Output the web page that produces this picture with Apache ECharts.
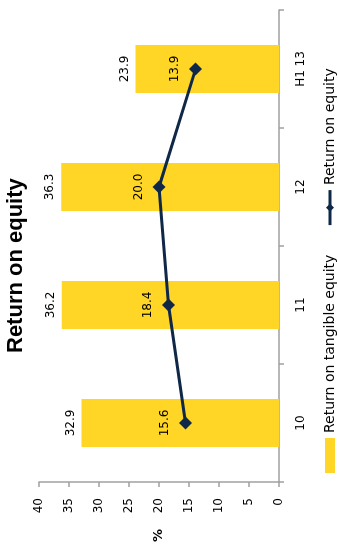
<!DOCTYPE html>
<html>
<head>
<meta charset="utf-8">
<script src="https://cdn.jsdelivr.net/npm/echarts@6/dist/echarts.min.js"></script>
<style>
html,body{margin:0;padding:0;background:#fff;overflow:hidden;width:338px;height:548px;}
#chart{position:absolute;left:0;top:0;width:548px;height:338px;transform-origin:0 0;transform:translate(0,548px) rotate(-90deg);}
</style>
</head>
<body>
<div id="chart"></div>
<script>
const categories = ['10', '11', '12', 'H1 13'];
const tangibleROE = [32.9, 36.2, 36.3, 23.9];
const roe = [15.6, 18.4, 20.0, 13.9];
const valueTicks = { min: 0, max: 40, interval: 5 };
const titleText = 'Return on equity';
const seriesNames = ['Return on tangible equity', 'Return on equity'];

const chart = echarts.init(document.getElementById('chart'), null, { renderer: 'canvas' });
const FONT = 'DejaVu Sans';
chart.setOption({
  backgroundColor: '#ffffff',
  animation: false,
  title: {
    text: titleText, left: 190, top: 0,
    textStyle: { fontFamily: 'Liberation Sans', fontWeight: 'bold', fontSize: 22, color: '#000' }
  },
  legend: {
    left: 70, top: 318, itemWidth: 35, itemHeight: 10, itemGap: 28,
    textStyle: { fontFamily: FONT, fontSize: 14, color: '#000' },
    data: [
      { name: seriesNames[0], icon: 'rect' },
      { name: seriesNames[1], lineStyle: { width: 3 } }
    ]
  },
  grid: { left: 66, right: 10, top: 39, bottom: 59 },
  xAxis: {
    type: 'category', data: categories, boundaryGap: true,
    axisLine: { lineStyle: { color: '#a0a0a0', width: 1.5 } },
    axisTick: { show: true, length: 5, alignWithLabel: false, lineStyle: { color: '#a0a0a0', width: 1.5 } },
    axisLabel: { margin: 16, fontFamily: FONT, fontSize: 12, color: '#000' }
  },
  yAxis: {
    type: 'value', min: valueTicks.min, max: valueTicks.max, interval: valueTicks.interval,
    name: '%', nameLocation: 'middle', nameGap: 47, nameRotate: 0,
    nameTextStyle: { fontFamily: FONT, fontSize: 13, fontWeight: 'bold', color: '#000' },
    axisLine: { show: true, lineStyle: { color: '#a0a0a0', width: 1.5 } },
    axisTick: { show: true, length: 5, lineStyle: { color: '#a0a0a0', width: 1.5 } },
    axisLabel: { margin: 16, fontFamily: FONT, fontSize: 12, color: '#000' },
    splitLine: { show: false }
  },
  series: [
    {
      name: seriesNames[0], type: 'bar', data: tangibleROE, barWidth: 48,
      itemStyle: { color: '#FFD526' },
      label: { show: true, position: 'top', distance: 5, fontFamily: FONT, fontSize: 12, color: '#000',
        formatter: p => p.value.toFixed(1) }
    },
    {
      name: seriesNames[1], type: 'line', data: roe, z: 5,
      lineStyle: { color: '#0f2848', width: 3 },
      itemStyle: { color: '#0f2848' },
      symbol: 'diamond', symbolSize: 13,
      label: { show: true, position: 'top', distance: 8, fontFamily: FONT, fontSize: 12, color: '#000',
        formatter: p => p.value.toFixed(1) }
    }
  ]
});
</script>
</body>
</html>
